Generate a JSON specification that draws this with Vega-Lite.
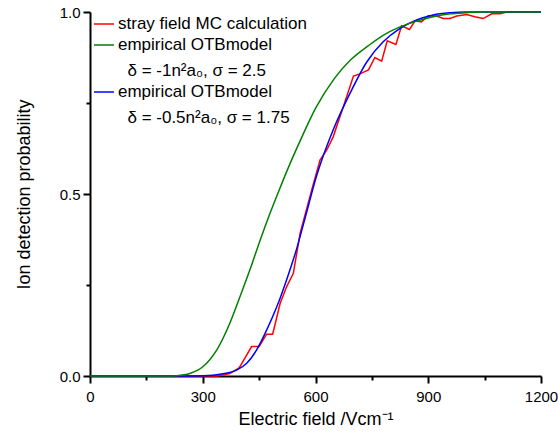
{
  "$schema": "https://vega.github.io/schema/vega-lite/v6.json",
  "width": 451,
  "height": 364,
  "autosize": {"type": "none"},
  "padding": {"left": 90, "top": 12, "right": 17, "bottom": 63},
  "background": "white",
  "config": {
    "view": {"stroke": null},
    "font": "Liberation Sans",
    "axis": {
      "grid": false,
      "domainColor": "black",
      "domainWidth": 2,
      "tickColor": "black",
      "tickWidth": 2,
      "labelFont": "Liberation Sans",
      "labelFontSize": 15,
      "labelColor": "black",
      "titleFont": "Liberation Sans",
      "titleFontSize": 18,
      "titleFontWeight": "normal",
      "titleColor": "black"
    }
  },
  "data": {
    "values": [
      {"series": "MC", "field": 0, "prob": 0},
      {"series": "MC", "field": 340, "prob": 0},
      {"series": "MC", "field": 372, "prob": 0.007},
      {"series": "MC", "field": 395, "prob": 0.021},
      {"series": "MC", "field": 399, "prob": 0.026},
      {"series": "MC", "field": 430, "prob": 0.081},
      {"series": "MC", "field": 450, "prob": 0.081},
      {"series": "MC", "field": 470, "prob": 0.115},
      {"series": "MC", "field": 486, "prob": 0.115},
      {"series": "MC", "field": 506, "prob": 0.2},
      {"series": "MC", "field": 523, "prob": 0.245},
      {"series": "MC", "field": 541, "prob": 0.282},
      {"series": "MC", "field": 559, "prob": 0.392},
      {"series": "MC", "field": 590, "prob": 0.511},
      {"series": "MC", "field": 612, "prob": 0.593},
      {"series": "MC", "field": 630, "prob": 0.621},
      {"series": "MC", "field": 647, "prob": 0.657},
      {"series": "MC", "field": 674, "prob": 0.74},
      {"series": "MC", "field": 701, "prob": 0.824},
      {"series": "MC", "field": 718, "prob": 0.83},
      {"series": "MC", "field": 741, "prob": 0.841},
      {"series": "MC", "field": 758, "prob": 0.875},
      {"series": "MC", "field": 776, "prob": 0.865},
      {"series": "MC", "field": 791, "prob": 0.921},
      {"series": "MC", "field": 814, "prob": 0.911},
      {"series": "MC", "field": 829, "prob": 0.962},
      {"series": "MC", "field": 850, "prob": 0.952},
      {"series": "MC", "field": 865, "prob": 0.976},
      {"series": "MC", "field": 882, "prob": 0.973},
      {"series": "MC", "field": 900, "prob": 0.99},
      {"series": "MC", "field": 922, "prob": 0.989},
      {"series": "MC", "field": 940, "prob": 0.982},
      {"series": "MC", "field": 958, "prob": 0.982},
      {"series": "MC", "field": 976, "prob": 0.989},
      {"series": "MC", "field": 1002, "prob": 0.993},
      {"series": "MC", "field": 1024, "prob": 0.987},
      {"series": "MC", "field": 1046, "prob": 0.982},
      {"series": "MC", "field": 1069, "prob": 0.995},
      {"series": "MC", "field": 1091, "prob": 0.995},
      {"series": "MC", "field": 1109, "prob": 1.0},
      {"series": "MC", "field": 1200, "prob": 1.0},
      {"series": "OTB2", "field": 0, "prob": 0},
      {"series": "OTB2", "field": 250, "prob": 0},
      {"series": "OTB2", "field": 301, "prob": 0.001},
      {"series": "OTB2", "field": 346, "prob": 0.005},
      {"series": "OTB2", "field": 390, "prob": 0.016},
      {"series": "OTB2", "field": 417, "prob": 0.035},
      {"series": "OTB2", "field": 443, "prob": 0.071},
      {"series": "OTB2", "field": 470, "prob": 0.126},
      {"series": "OTB2", "field": 497, "prob": 0.19},
      {"series": "OTB2", "field": 523, "prob": 0.264},
      {"series": "OTB2", "field": 550, "prob": 0.35},
      {"series": "OTB2", "field": 577, "prob": 0.452},
      {"series": "OTB2", "field": 600, "prob": 0.54},
      {"series": "OTB2", "field": 620, "prob": 0.603},
      {"series": "OTB2", "field": 647, "prob": 0.676},
      {"series": "OTB2", "field": 692, "prob": 0.777},
      {"series": "OTB2", "field": 736, "prob": 0.862},
      {"series": "OTB2", "field": 780, "prob": 0.918},
      {"series": "OTB2", "field": 825, "prob": 0.955},
      {"series": "OTB2", "field": 869, "prob": 0.978},
      {"series": "OTB2", "field": 913, "prob": 0.992},
      {"series": "OTB2", "field": 958, "prob": 0.998},
      {"series": "OTB2", "field": 1000, "prob": 1.0},
      {"series": "OTB2", "field": 1200, "prob": 1.0},
      {"series": "OTB1", "field": 0, "prob": 0},
      {"series": "OTB1", "field": 200, "prob": 0},
      {"series": "OTB1", "field": 230, "prob": 0.001},
      {"series": "OTB1", "field": 266, "prob": 0.007},
      {"series": "OTB1", "field": 301, "prob": 0.026},
      {"series": "OTB1", "field": 337, "prob": 0.071},
      {"series": "OTB1", "field": 372, "prob": 0.145},
      {"series": "OTB1", "field": 399, "prob": 0.218},
      {"series": "OTB1", "field": 426, "prob": 0.293},
      {"series": "OTB1", "field": 452, "prob": 0.371},
      {"series": "OTB1", "field": 479, "prob": 0.447},
      {"series": "OTB1", "field": 505, "prob": 0.515},
      {"series": "OTB1", "field": 530, "prob": 0.578},
      {"series": "OTB1", "field": 560, "prob": 0.648},
      {"series": "OTB1", "field": 600, "prob": 0.735},
      {"series": "OTB1", "field": 650, "prob": 0.817},
      {"series": "OTB1", "field": 695, "prob": 0.87},
      {"series": "OTB1", "field": 740, "prob": 0.907},
      {"series": "OTB1", "field": 780, "prob": 0.936},
      {"series": "OTB1", "field": 825, "prob": 0.959},
      {"series": "OTB1", "field": 869, "prob": 0.975},
      {"series": "OTB1", "field": 913, "prob": 0.987},
      {"series": "OTB1", "field": 958, "prob": 0.995},
      {"series": "OTB1", "field": 1000, "prob": 0.998},
      {"series": "OTB1", "field": 1046, "prob": 1.0},
      {"series": "OTB1", "field": 1200, "prob": 1.0}
    ]
  },
  "encoding": {
    "x": {
      "field": "field",
      "type": "quantitative",
      "scale": {"domain": [0, 1200], "nice": false, "zero": false},
      "axis": {
        "title": "Electric field /Vcm⁻¹",
        "values": [0, 150, 300, 450, 600, 750, 900, 1050, 1200],
        "labelExpr": "datum.value % 300 == 0 ? datum.label : ''",
        "format": "d",
        "labelFlush": false,
        "labelOverlap": false,
        "labelBound": false,
        "tickSize": {"condition": {"test": "datum.value % 300 == 0", "value": 7}, "value": 4},
        "labelPadding": 6,
        "titlePadding": 6
      }
    },
    "y": {
      "field": "prob",
      "type": "quantitative",
      "scale": {"domain": [0, 1], "nice": false},
      "axis": {
        "title": "Ion detection probability",
        "values": [0, 0.25, 0.5, 0.75, 1],
        "format": ".1f",
        "labelExpr": "(datum.value == 0 || datum.value == 0.5 || datum.value == 1) ? datum.label : ''",
        "labelOverlap": false,
        "labelBound": false,
        "tickSize": {"condition": {"test": "datum.value == 0 || datum.value == 0.5 || datum.value == 1", "value": 7}, "value": 4},
        "labelPadding": 3,
        "titlePadding": 26
      }
    },
    "color": {
      "field": "series",
      "type": "nominal",
      "scale": {"domain": ["MC", "OTB1", "OTB2"], "range": ["#ff0000", "#008000", "#0000ff"]},
      "legend": {
        "orient": "none",
        "legendX": 3,
        "legendY": 1,
        "title": null,
        "padding": 0,
        "symbolType": "stroke",
        "symbolSize": 400,
        "symbolStrokeWidth": 1.5,
        "labelFont": "Liberation Sans",
        "labelFontSize": 17,
        "labelColor": "black",
        "labelOffset": 3,
        "labelLimit": 0,
        "rowPadding": 2,
        "labelExpr": "datum.value == 'MC' ? 'stray field MC calculation' : datum.value == 'OTB1' ? ['empirical OTBmodel', '\u200b\u00a0\u00a0δ = -1n²a₀, σ = 2.5'] : ['empirical OTBmodel', '\u200b\u00a0\u00a0δ = -0.5n²a₀, σ = 1.75']",
        "encode": {
          "labels": {
            "update": {
              "lineHeight": {"value": 26}
            }
          }
        }
      }
    }
  },
  "layer": [
    {
      "transform": [{"filter": "datum.series == 'MC'"}],
      "mark": {"type": "line", "strokeWidth": 1.5, "interpolate": "linear"}
    },
    {
      "transform": [{"filter": "datum.series != 'MC'"}],
      "mark": {"type": "line", "strokeWidth": 1.5, "interpolate": "monotone"}
    }
  ]
}
